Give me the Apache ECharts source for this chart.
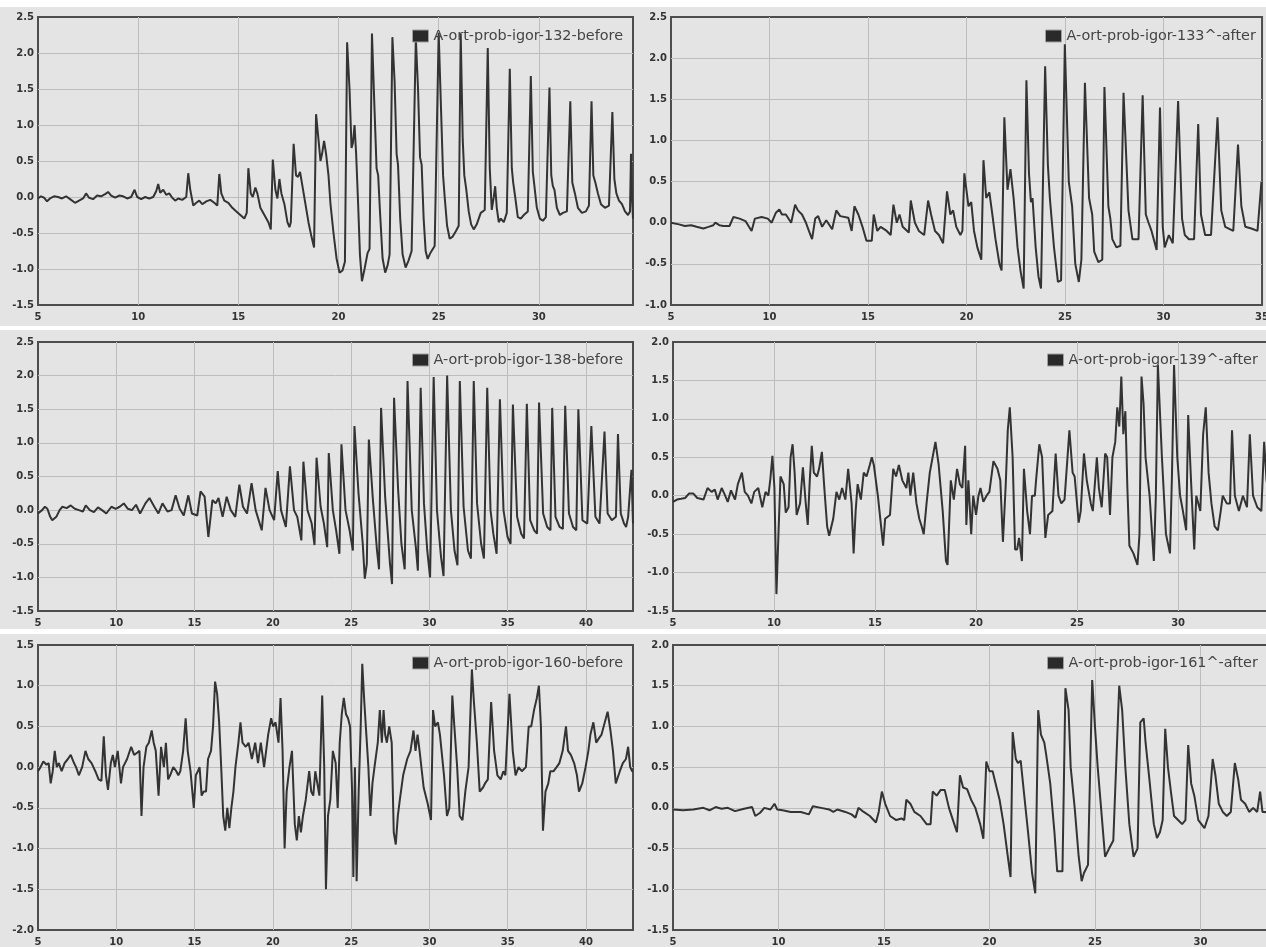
<!DOCTYPE html>
<html>
<head>
<meta charset="utf-8">
<script src="https://cdn.jsdelivr.net/npm/echarts@6/dist/echarts.min.js"></script>
<style>
  html, body { margin: 0; padding: 0; background: #fff; overflow: hidden; }
  #wrap { position: relative; width: 1266px; height: 947px; overflow: hidden; }
  .band { position: absolute; left: 0; width: 1266px; background: #e4e4e4; }
  #chart { position: absolute; left: 0; top: 0; width: 1272px; height: 947px; }
</style>
</head>
<body>
<div id="wrap">
  <div class="band" style="top:7px;height:319px"></div>
  <div class="band" style="top:330px;height:299px"></div>
  <div class="band" style="top:634px;height:313px"></div>
  <div id="chart"></div>
</div>
<script>
// series names (legend text)
var names = [
  "A-ort-prob-igor-132-before",
  "A-ort-prob-igor-133^-after",
  "A-ort-prob-igor-138-before",
  "A-ort-prob-igor-139^-after",
  "A-ort-prob-igor-160-before",
  "A-ort-prob-igor-161^-after"
];

// axis ranges
var xRanges = [[5, 34.7], [5, 35], [5, 43], [5, 34.5], [5, 43], [5, 33.25]];
var yRanges = [[-1.5, 2.5], [-1.0, 2.5], [-1.5, 2.5], [-1.5, 2.0], [-2.0, 1.5], [-1.5, 2.0]];

// [x, value] samples
var sig132 = [[5.0,-0.02],[5.15,0.01],[5.3,-0.01],[5.45,-0.06],[5.6,-0.02],[5.8,0.01],[6.0,0.0],[6.2,-0.02],[6.4,0.01],[6.6,-0.03],[6.85,-0.08],[7.05,-0.05],[7.25,-0.02],[7.4,0.05],[7.55,-0.01],[7.75,-0.03],[7.95,0.02],[8.15,0.01],[8.35,0.04],[8.5,0.07],[8.65,0.02],[8.85,-0.01],[9.05,0.02],[9.25,0.01],[9.45,-0.02],[9.65,0.0],[9.82,0.1],[9.95,0.0],[10.15,-0.03],[10.35,0.0],[10.55,-0.02],[10.75,0.0],[10.9,0.08],[11.0,0.18],[11.1,0.06],[11.25,0.1],[11.4,0.03],[11.55,0.05],[11.7,-0.01],[11.85,-0.05],[12.0,-0.02],[12.2,-0.04],[12.4,0.0],
  [12.5,0.33],[12.6,0.1],[12.75,-0.12],[12.9,-0.08],[13.05,-0.05],[13.2,-0.1],[13.4,-0.06],[13.6,-0.04],[13.8,-0.08],[13.95,-0.12],[14.05,0.32],[14.15,0.05],[14.3,-0.05],[14.5,-0.08],[14.7,-0.15],[14.9,-0.2],[15.1,-0.25],[15.3,-0.3],[15.42,-0.22],[15.5,0.4],[15.62,0.05],[15.72,0.0],[15.85,0.13],[15.95,0.05],[16.1,-0.15],[16.3,-0.25],[16.5,-0.35],[16.62,-0.45],[16.72,0.52],[16.85,0.1],[16.95,-0.02],[17.05,0.25],[17.15,0.05],[17.3,-0.1],[17.45,-0.35],[17.55,-0.42],[17.62,-0.35],[17.76,0.74],[17.88,0.3],[17.98,0.28],[18.08,0.35],[18.2,0.15],[18.35,-0.1],[18.5,-0.35],[18.65,-0.55],[18.78,-0.7],[18.88,1.15],[19.0,0.8],[19.1,0.5],[19.18,0.6],[19.28,0.78],[19.38,0.6],[19.5,0.3],[19.6,-0.1],[19.75,-0.5],[19.9,-0.85],[20.05,-1.05],[20.2,-1.02],[20.32,-0.9],[20.43,2.15],[20.55,1.5],[20.65,0.68],[20.72,0.75],[20.8,1.0],[20.88,0.6],[20.98,-0.1],[21.07,-0.8],[21.17,-1.17],[21.3,-1.0],[21.45,-0.78],[21.55,-0.72],[21.67,2.27],[21.8,1.2],[21.9,0.4],[21.98,0.3],[22.07,-0.2],[22.2,-0.85],[22.33,-1.05],[22.45,-0.95],[22.55,-0.8],[22.69,2.22],[22.8,1.6],[22.9,0.6],[22.97,0.45],[23.08,-0.3],[23.2,-0.8],[23.35,-0.98],[23.5,-0.88],[23.65,-0.75],[23.86,2.2],[23.97,1.5],[24.07,0.55],[24.15,0.45],[24.25,-0.3],[24.35,-0.75],[24.45,-0.86],[24.6,-0.77],[24.8,-0.68],[25.0,2.28],[25.12,1.2],[25.22,0.3],[25.3,0.0],[25.42,-0.4],[25.55,-0.58],[25.7,-0.55],[25.85,-0.48],[26.0,-0.4],[26.1,2.27],[26.2,0.8],[26.28,0.3],[26.38,0.1],[26.5,-0.2],[26.62,-0.38],[26.75,-0.45],[26.9,-0.38],[27.1,-0.22],[27.3,-0.18],[27.45,2.07],[27.55,0.4],[27.65,-0.18],[27.75,0.0],[27.82,0.15],[27.9,-0.15],[28.0,-0.35],[28.1,-0.3],[28.25,-0.35],[28.4,-0.22],[28.55,1.78],[28.65,0.4],[28.72,0.2],[28.82,0.0],[28.95,-0.28],[29.1,-0.3],[29.25,-0.25],[29.45,-0.2],[29.6,1.68],[29.7,0.35],[29.78,0.15],[29.9,-0.15],[30.05,-0.3],[30.2,-0.33],[30.35,-0.28],[30.53,1.52],[30.62,0.3],[30.7,0.15],[30.78,0.1],[30.9,-0.15],[31.05,-0.25],[31.2,-0.22],[31.4,-0.2],[31.57,1.33],[31.67,0.2],[31.8,0.05],[31.95,-0.15],[32.15,-0.22],[32.35,-0.2],[32.5,-0.12],[32.63,1.33],[32.72,0.3],[32.82,0.2],[32.95,0.05],[33.1,-0.1],[33.3,-0.15],[33.5,-0.12],[33.67,1.18],[33.77,0.25],[33.87,0.05],[34.0,-0.05],[34.15,-0.1],[34.3,-0.2],[34.45,-0.25],[34.55,-0.2],[34.6,0.6],[34.65,0.0],[34.7,-0.3]];

var sig133 = [[5.0,0.0],[5.41,-0.02],[5.7,-0.04],[6.02,-0.03],[6.3,-0.05],[6.64,-0.07],[6.9,-0.05],[7.15,-0.03],[7.25,0.0],[7.45,-0.03],[7.66,-0.04],[7.97,-0.04],[8.17,0.07],[8.48,0.05],[8.78,0.02],[9.09,-0.1],[9.26,0.05],[9.6,0.07],[9.91,0.05],[10.11,0.0],[10.32,0.12],[10.5,0.16],[10.63,0.1],[10.83,0.1],[11.1,0.0],[11.3,0.22],[11.44,0.15],[11.65,0.1],[11.85,0.0],[12.0,-0.1],[12.16,-0.2],[12.32,0.05],[12.47,0.08],[12.67,-0.05],[12.88,0.03],[13.18,-0.08],[13.39,0.15],[13.59,0.08],[14.0,0.06],[14.17,-0.1],[14.31,0.2],[14.51,0.1],[14.72,-0.05],[14.92,-0.22],[15.19,-0.22],[15.29,0.1],[15.47,-0.1],[15.64,-0.05],[15.95,-0.1],[16.15,-0.15],[16.29,0.22],[16.46,0.0],[16.6,0.1],[16.76,-0.05],[17.07,-0.12],[17.17,0.27],[17.38,0.0],[17.58,-0.1],[17.85,-0.15],[18.05,0.27],[18.2,0.1],[18.4,-0.1],[18.6,-0.15],[18.81,-0.25],[19.01,0.38],[19.18,0.1],[19.32,0.15],[19.48,-0.05],[19.69,-0.15],[19.79,-0.1],[19.89,0.6],[20.1,0.2],[20.24,0.25],[20.38,-0.1],[20.55,-0.3],[20.75,-0.45],[20.86,0.76],[21.0,0.3],[21.16,0.37],[21.31,0.1],[21.47,-0.2],[21.67,-0.5],[21.78,-0.58],[21.92,1.28],[22.08,0.4],[22.23,0.65],[22.39,0.3],[22.59,-0.3],[22.75,-0.6],[22.9,-0.8],[23.04,1.73],[23.17,0.6],[23.27,0.25],[23.35,0.3],[23.51,-0.3],[23.65,-0.65],[23.78,-0.8],[23.99,1.9],[24.13,0.7],[24.23,0.3],[24.44,-0.3],[24.64,-0.72],[24.8,-0.7],[24.99,2.17],[25.19,0.5],[25.36,0.2],[25.52,-0.5],[25.7,-0.72],[25.83,-0.45],[26.01,1.7],[26.22,0.3],[26.38,0.1],[26.48,-0.35],[26.69,-0.48],[26.89,-0.45],[27.0,1.65],[27.2,0.2],[27.3,0.05],[27.4,-0.2],[27.61,-0.3],[27.81,-0.28],[27.97,1.58],[28.22,0.15],[28.42,-0.2],[28.73,-0.2],[28.94,1.55],[29.1,0.1],[29.24,0.0],[29.39,-0.1],[29.65,-0.33],[29.82,1.4],[29.96,-0.05],[30.06,-0.3],[30.27,-0.15],[30.47,-0.25],[30.74,1.48],[30.94,0.05],[31.08,-0.15],[31.29,-0.2],[31.55,-0.2],[31.76,1.2],[31.9,0.1],[32.11,-0.15],[32.41,-0.15],[32.74,1.28],[32.93,0.15],[33.13,-0.05],[33.54,-0.1],[33.78,0.95],[33.95,0.2],[34.15,-0.05],[34.46,-0.07],[34.77,-0.1],[34.97,0.5]];

var sig138 = [[5.0,-0.05],[5.26,0.0],[5.44,0.05],[5.6,0.02],[5.78,-0.1],[5.91,-0.15],[6.17,-0.1],[6.38,0.0],[6.56,0.05],[6.83,0.03],[7.09,0.07],[7.35,0.02],[7.61,0.0],[7.87,-0.02],[8.05,0.07],[8.31,0.0],[8.57,-0.03],[8.83,0.04],[9.09,0.0],[9.36,-0.05],[9.69,0.05],[9.96,0.02],[10.22,0.05],[10.48,0.1],[10.74,0.02],[11.0,0.0],[11.26,0.08],[11.52,-0.05],[11.86,0.1],[12.12,0.18],[12.43,0.05],[12.69,-0.05],[12.95,0.1],[13.27,-0.02],[13.53,0.0],[13.79,0.22],[14.05,0.02],[14.31,-0.08],[14.6,0.22],[14.83,-0.05],[15.17,-0.08],[15.38,0.28],[15.64,0.2],[15.88,-0.4],[16.14,0.15],[16.35,0.1],[16.53,0.18],[16.79,-0.1],[17.05,0.2],[17.31,0.0],[17.6,-0.1],[17.86,0.38],[18.09,0.05],[18.35,-0.05],[18.64,0.4],[18.9,0.0],[19.29,-0.3],[19.53,0.33],[19.79,0.0],[20.08,-0.15],[20.31,0.58],[20.52,0.0],[20.83,-0.25],[21.09,0.65],[21.35,0.0],[21.56,-0.1],[21.82,-0.45],[21.95,0.72],[22.21,0.0],[22.48,-0.2],[22.66,-0.52],[22.79,0.78],[23.05,0.05],[23.26,-0.2],[23.47,-0.55],[23.57,0.85],[23.83,0.0],[24.04,-0.3],[24.25,-0.65],[24.38,0.98],[24.64,0.0],[24.9,-0.3],[25.11,-0.6],[25.21,1.25],[25.47,0.25],[25.74,-0.5],[25.87,-1.02],[26.0,-0.8],[26.13,1.05],[26.39,0.15],[26.65,-0.6],[26.78,-0.88],[26.91,1.52],[27.17,0.2],[27.48,-0.8],[27.61,-1.1],[27.74,1.67],[28.0,0.3],[28.21,-0.5],[28.42,-0.88],[28.6,1.92],[28.87,0.0],[29.13,-0.55],[29.26,-0.9],[29.44,1.82],[29.65,0.1],[29.86,-0.6],[30.04,-1.0],[30.27,1.98],[30.48,0.0],[30.74,-0.7],[30.9,-0.98],[31.13,2.0],[31.37,0.0],[31.6,-0.6],[31.79,-0.82],[31.94,1.92],[32.18,0.05],[32.46,-0.6],[32.65,-0.72],[32.83,1.92],[33.04,0.1],[33.3,-0.5],[33.48,-0.72],[33.69,1.82],[33.9,0.0],[34.08,-0.35],[34.29,-0.65],[34.5,1.65],[34.73,0.0],[34.99,-0.4],[35.18,-0.5],[35.33,1.57],[35.6,-0.1],[35.86,-0.35],[36.04,-0.42],[36.22,1.58],[36.43,-0.15],[36.69,-0.3],[36.87,-0.35],[37.0,1.6],[37.26,-0.05],[37.52,-0.25],[37.73,-0.3],[37.84,1.52],[38.05,-0.1],[38.31,-0.25],[38.52,-0.28],[38.67,1.55],[38.91,-0.05],[39.17,-0.25],[39.38,-0.3],[39.51,1.5],[39.77,-0.15],[40.08,-0.2],[40.34,1.25],[40.6,-0.1],[40.86,-0.2],[41.18,1.17],[41.38,-0.05],[41.65,-0.15],[41.91,-0.1],[42.04,1.13],[42.22,-0.05],[42.43,-0.2],[42.56,-0.25],[42.69,-0.1],[42.9,0.6],[43.0,-0.2]];

var sig139 = [[5.0,-0.08],[5.2,-0.05],[5.4,-0.04],[5.6,-0.03],[5.8,0.03],[6.0,0.03],[6.2,-0.03],[6.51,-0.05],[6.71,0.1],[6.91,0.05],[7.07,0.08],[7.21,-0.05],[7.41,0.1],[7.55,0.02],[7.71,-0.08],[7.87,0.07],[8.07,-0.05],[8.21,0.15],[8.41,0.3],[8.55,0.05],[8.71,0.0],[8.88,-0.1],[9.02,0.05],[9.22,0.1],[9.42,-0.15],[9.58,0.05],[9.72,0.0],[9.82,0.22],[9.92,0.52],[10.02,0.1],[10.12,-1.28],[10.22,-0.5],[10.32,0.25],[10.48,0.15],[10.58,-0.22],[10.72,-0.15],[10.82,0.5],[10.92,0.67],[11.02,0.3],[11.12,-0.25],[11.29,-0.1],[11.43,0.37],[11.57,-0.1],[11.67,-0.38],[11.77,0.2],[11.87,0.65],[11.97,0.3],[12.13,0.25],[12.23,0.35],[12.37,0.57],[12.49,0.1],[12.63,-0.4],[12.73,-0.52],[12.93,-0.3],[13.09,0.05],[13.23,-0.05],[13.37,0.1],[13.53,-0.05],[13.67,0.35],[13.84,-0.1],[13.94,-0.75],[14.04,-0.2],[14.14,0.15],[14.3,-0.05],[14.44,0.3],[14.58,0.25],[14.74,0.4],[14.84,0.5],[14.94,0.4],[15.14,0.0],[15.3,-0.4],[15.4,-0.65],[15.5,-0.3],[15.74,-0.25],[15.9,0.35],[16.04,0.25],[16.18,0.4],[16.35,0.2],[16.55,0.1],[16.65,0.3],[16.75,0.0],[16.89,0.3],[17.05,-0.1],[17.19,-0.3],[17.31,-0.4],[17.41,-0.5],[17.55,-0.1],[17.71,0.3],[17.85,0.5],[17.99,0.7],[18.15,0.4],[18.35,-0.2],[18.51,-0.85],[18.59,-0.9],[18.75,0.2],[18.9,-0.05],[19.06,0.35],[19.2,0.15],[19.32,0.1],[19.46,0.65],[19.52,-0.38],[19.62,0.2],[19.76,-0.5],[19.86,0.0],[20.0,-0.25],[20.12,0.0],[20.22,0.1],[20.36,-0.08],[20.52,0.0],[20.66,0.05],[20.86,0.45],[21.06,0.35],[21.2,0.2],[21.33,-0.6],[21.47,0.15],[21.57,0.85],[21.67,1.15],[21.81,0.5],[21.93,-0.7],[22.03,-0.7],[22.13,-0.55],[22.27,-0.85],[22.37,0.35],[22.53,-0.2],[22.67,-0.5],[22.77,0.0],[22.91,0.0],[22.97,0.2],[23.13,0.67],[23.27,0.5],[23.43,-0.55],[23.57,-0.25],[23.78,-0.2],[23.94,0.55],[24.08,0.0],[24.22,-0.1],[24.38,-0.05],[24.62,0.85],[24.78,0.3],[24.88,0.25],[25.08,-0.35],[25.18,-0.2],[25.34,0.55],[25.48,0.2],[25.68,-0.1],[25.78,-0.2],[25.98,0.5],[26.08,0.1],[26.22,-0.15],[26.39,0.55],[26.49,0.5],[26.63,-0.25],[26.75,0.5],[26.89,0.7],[26.99,1.15],[27.09,0.9],[27.19,1.55],[27.29,0.8],[27.39,1.1],[27.49,0.1],[27.59,-0.65],[27.79,-0.75],[27.99,-0.9],[28.09,-0.5],[28.19,1.55],[28.29,1.2],[28.39,0.5],[28.59,0.0],[28.8,-0.85],[28.9,0.0],[29.0,1.7],[29.2,0.5],[29.4,-0.5],[29.6,-0.75],[29.7,0.3],[29.8,1.7],[29.96,0.5],[30.1,0.0],[30.24,-0.2],[30.4,-0.45],[30.5,1.05],[30.64,0.2],[30.8,-0.7],[30.9,0.0],[31.1,-0.2],[31.24,0.8],[31.37,1.15],[31.51,0.3],[31.65,-0.1],[31.81,-0.4],[31.97,-0.45],[32.11,-0.2],[32.21,0.0],[32.41,-0.1],[32.57,-0.1],[32.67,0.85],[32.81,0.0],[33.01,-0.2],[33.21,0.0],[33.41,-0.15],[33.55,0.8],[33.71,0.0],[33.92,-0.15],[34.12,-0.2],[34.26,0.7],[34.38,0.2],[34.5,0.0]];

var sig160 = [[5.0,-0.05],[5.16,0.0],[5.34,0.07],[5.55,0.03],[5.68,0.05],[5.81,-0.2],[5.94,-0.05],[6.07,0.2],[6.2,0.0],[6.33,0.05],[6.51,-0.05],[6.7,0.05],[6.91,0.1],[7.09,0.15],[7.3,0.05],[7.43,0.0],[7.61,-0.1],[7.82,0.0],[8.03,0.2],[8.21,0.1],[8.42,0.05],[8.66,-0.05],[8.87,-0.15],[9.05,-0.17],[9.2,0.38],[9.34,-0.1],[9.47,-0.28],[9.65,0.05],[9.78,0.15],[9.91,0.0],[10.09,0.2],[10.3,-0.2],[10.43,0.0],[10.69,0.1],[10.95,0.25],[11.14,0.15],[11.35,0.18],[11.48,0.2],[11.61,-0.6],[11.74,0.0],[11.92,0.25],[12.08,0.3],[12.26,0.45],[12.39,0.3],[12.52,0.2],[12.7,-0.35],[12.86,0.25],[13.04,0.0],[13.17,0.3],[13.31,-0.15],[13.44,-0.1],[13.64,0.0],[13.83,-0.05],[13.96,-0.1],[14.09,-0.05],[14.27,0.2],[14.43,0.6],[14.56,0.2],[14.74,-0.05],[14.95,-0.5],[15.08,-0.1],[15.21,-0.05],[15.32,0.0],[15.45,-0.35],[15.58,-0.3],[15.73,-0.3],[15.86,0.1],[16.05,0.2],[16.18,0.5],[16.31,1.05],[16.44,0.9],[16.57,0.55],[16.7,0.0],[16.83,-0.6],[16.96,-0.78],[17.09,-0.5],[17.22,-0.75],[17.35,-0.5],[17.48,-0.3],[17.61,0.0],[17.8,0.3],[17.93,0.55],[18.06,0.3],[18.27,0.25],[18.45,0.3],[18.66,0.1],[18.87,0.3],[19.05,0.05],[19.23,0.3],[19.44,0.0],[19.57,0.2],[19.7,0.4],[19.89,0.6],[20.02,0.5],[20.17,0.55],[20.36,0.3],[20.49,0.85],[20.62,0.2],[20.75,-1.0],[20.88,-0.3],[21.06,0.0],[21.22,0.2],[21.4,-0.7],[21.53,-0.9],[21.66,-0.6],[21.79,-0.8],[21.92,-0.6],[22.1,-0.4],[22.32,-0.05],[22.45,-0.3],[22.58,-0.35],[22.71,-0.05],[22.84,-0.2],[22.97,-0.35],[23.15,0.88],[23.28,0.0],[23.39,-1.5],[23.52,-0.6],[23.67,-0.4],[23.83,0.2],[24.01,0.05],[24.14,-0.5],[24.27,0.3],[24.4,0.65],[24.53,0.85],[24.67,0.65],[24.8,0.6],[24.93,0.5],[25.06,-0.3],[25.14,-1.35],[25.24,0.0],[25.35,-1.4],[25.48,-0.3],[25.61,0.5],[25.71,1.27],[25.84,0.8],[25.97,0.4],[26.1,0.0],[26.23,-0.6],[26.36,-0.2],[26.49,0.0],[26.7,0.3],[26.83,0.7],[26.96,0.3],[27.07,0.7],[27.17,0.4],[27.28,0.3],[27.43,0.5],[27.59,0.3],[27.72,-0.8],[27.85,-0.95],[27.98,-0.6],[28.11,-0.4],[28.32,-0.1],[28.58,0.1],[28.79,0.2],[28.98,0.45],[29.11,0.2],[29.24,0.4],[29.37,0.2],[29.63,-0.25],[29.89,-0.45],[30.1,-0.65],[30.23,0.7],[30.36,0.5],[30.54,0.55],[30.67,0.4],[30.93,-0.1],[31.12,-0.6],[31.27,-0.5],[31.46,0.88],[31.59,0.5],[31.77,0.0],[31.93,-0.6],[32.11,-0.65],[32.29,-0.3],[32.5,0.0],[32.71,1.2],[32.84,0.8],[33.03,0.3],[33.21,-0.3],[33.42,-0.25],[33.55,-0.2],[33.73,-0.15],[33.94,0.8],[34.13,0.2],[34.34,-0.1],[34.55,-0.15],[34.72,-0.05],[34.85,-0.1],[35.11,0.9],[35.32,0.2],[35.5,-0.1],[35.69,0.0],[35.9,-0.05],[36.16,0.0],[36.34,0.5],[36.5,0.5],[36.68,0.7],[36.86,0.85],[36.99,1.0],[37.12,0.5],[37.25,-0.78],[37.41,-0.3],[37.59,-0.2],[37.72,-0.05],[37.93,-0.05],[38.12,0.0],[38.3,0.05],[38.51,0.2],[38.72,0.5],[38.85,0.2],[39.03,0.15],[39.24,0.05],[39.42,-0.1],[39.55,-0.3],[39.76,-0.2],[39.97,0.0],[40.15,0.2],[40.28,0.4],[40.47,0.55],[40.65,0.3],[40.81,0.35],[40.99,0.4],[41.2,0.55],[41.38,0.68],[41.56,0.45],[41.72,0.2],[41.9,-0.2],[42.16,-0.05],[42.35,0.05],[42.55,0.1],[42.69,0.25],[42.82,0.0],[42.95,-0.05],[43.0,-0.05]];

var sig161 = [[5.0,-0.02],[5.48,-0.03],[5.96,-0.02],[6.44,0.0],[6.73,-0.03],[7.02,0.01],[7.3,-0.01],[7.6,0.0],[7.94,-0.04],[8.37,-0.01],[8.75,0.01],[8.9,-0.1],[9.13,-0.06],[9.33,0.0],[9.62,-0.02],[9.81,0.05],[9.94,-0.02],[10.19,-0.03],[10.58,-0.05],[11.06,-0.05],[11.44,-0.08],[11.63,0.02],[12.02,0.0],[12.4,-0.02],[12.6,-0.05],[12.79,-0.02],[13.17,-0.05],[13.46,-0.08],[13.65,-0.12],[13.79,0.0],[14.04,-0.05],[14.33,-0.1],[14.62,-0.18],[14.75,-0.05],[14.9,0.2],[15.06,0.05],[15.29,-0.1],[15.58,-0.15],[15.83,-0.13],[15.96,-0.15],[16.06,0.1],[16.25,0.05],[16.44,-0.05],[16.73,-0.1],[17.02,-0.2],[17.21,-0.2],[17.31,0.2],[17.5,0.15],[17.69,0.22],[17.88,0.22],[18.08,0.0],[18.27,-0.15],[18.46,-0.3],[18.6,0.4],[18.75,0.25],[18.94,0.23],[19.13,0.1],[19.33,0.0],[19.56,-0.2],[19.71,-0.38],[19.85,0.57],[20.0,0.45],[20.15,0.45],[20.29,0.3],[20.48,0.1],[20.67,-0.2],[20.87,-0.6],[21.0,-0.85],[21.1,0.93],[21.25,0.6],[21.35,0.55],[21.48,0.58],[21.63,0.2],[21.83,-0.3],[22.02,-0.8],[22.17,-1.05],[22.31,1.2],[22.44,0.9],[22.6,0.8],[22.69,0.65],[22.88,0.3],[23.08,-0.3],[23.21,-0.78],[23.33,-0.78],[23.46,-0.78],[23.6,1.47],[23.75,1.2],[23.85,0.5],[24.04,0.0],[24.23,-0.6],[24.37,-0.9],[24.48,-0.8],[24.67,-0.7],[24.87,1.57],[25.0,1.0],[25.13,0.5],[25.29,0.0],[25.48,-0.6],[25.67,-0.5],[25.87,-0.4],[26.15,1.5],[26.29,1.2],[26.44,0.5],[26.63,-0.2],[26.83,-0.6],[27.02,-0.5],[27.15,1.05],[27.31,1.1],[27.4,0.8],[27.6,0.3],[27.79,-0.2],[27.94,-0.37],[28.08,-0.3],[28.21,-0.15],[28.33,0.97],[28.46,0.5],[28.6,0.2],[28.75,-0.1],[28.94,-0.15],[29.13,-0.2],[29.29,-0.15],[29.42,0.77],[29.56,0.3],[29.71,0.15],[29.9,-0.15],[30.19,-0.25],[30.38,-0.1],[30.58,0.6],[30.71,0.4],[30.87,0.05],[31.06,-0.05],[31.25,-0.1],[31.44,-0.05],[31.63,0.55],[31.79,0.35],[31.92,0.1],[32.12,0.05],[32.31,-0.05],[32.5,0.0],[32.69,-0.05],[32.83,0.2],[32.94,-0.05],[33.08,-0.05],[33.25,-0.08]];

var signals = [sig132, sig133, sig138, sig139, sig160, sig161];

// panel boxes: [left, top, width, height]; right-hand panels run past the picture edge
var boxes = [
  [38, 17, 595, 288], [671, 17, 597, 288],
  [38, 342, 595, 269], [673, 342, 596, 269],
  [38, 645, 595, 287], [673, 645, 596, 287]
];
var legendPos = [[412, 29], [1045, 29], [412, 353], [1047, 353], [412, 656], [1047, 656]];

var chart = echarts.init(document.getElementById("chart"));
var font = "DejaVu Sans, Verdana, sans-serif";

var grid = [], xAxis = [], yAxis = [], series = [], legend = [];
for (var i = 0; i < 6; i++) {
  grid.push({
    left: boxes[i][0], top: boxes[i][1], width: boxes[i][2], height: boxes[i][3],
    show: true, borderColor: "#4d4d4d", borderWidth: 2, backgroundColor: "transparent"
  });
  xAxis.push({
    type: "value", gridIndex: i, min: xRanges[i][0], max: xRanges[i][1], interval: 5,
    axisLine: { show: false }, axisTick: { show: false },
    axisLabel: { margin: 7, color: "#333", fontSize: 10, fontWeight: "bold", fontFamily: font,
      showMaxLabel: i === 1 },
    splitLine: { show: true, showMinLine: false, showMaxLine: false, lineStyle: { color: "#bdbdbd", width: 1 } }
  });
  yAxis.push({
    type: "value", gridIndex: i, min: yRanges[i][0], max: yRanges[i][1], interval: 0.5,
    axisLine: { show: false }, axisTick: { show: false },
    axisLabel: { margin: 4, color: "#333", fontSize: 10, fontWeight: "bold", fontFamily: font,
      formatter: function (v) { return v.toFixed(1); } },
    splitLine: { show: true, showMinLine: false, showMaxLine: false, lineStyle: { color: "#bdbdbd", width: 1 } }
  });
  series.push({
    name: names[i], type: "line", xAxisIndex: i, yAxisIndex: i,
    data: signals[i], showSymbol: false, symbol: "none",
    lineStyle: { color: "#333", width: 2 }, itemStyle: { color: "#333" },
    animation: false
  });
  legend.push({
    data: [names[i]], left: legendPos[i][0], top: legendPos[i][1], padding: 0,
    icon: "rect", itemWidth: 16, itemHeight: 12, selectedMode: false,
    itemStyle: { color: "#2a2a2a", borderColor: "#a0a0a0", borderWidth: 1 },
    textStyle: { fontSize: 14.4, color: "#444", fontFamily: font }
  });
}

chart.setOption({
  animation: false,
  grid: grid, xAxis: xAxis, yAxis: yAxis, series: series, legend: legend
});
</script>
</body>
</html>
